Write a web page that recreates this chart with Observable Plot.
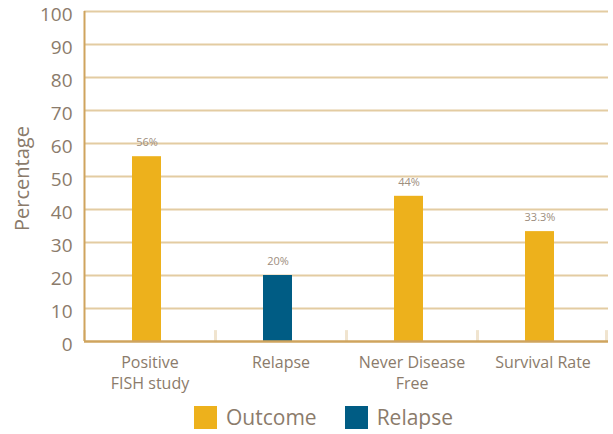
<!DOCTYPE html>
<html>
<head>
<meta charset="utf-8">
<script src="https://cdn.jsdelivr.net/npm/d3@7"></script>
<script src="https://cdn.jsdelivr.net/npm/@observablehq/plot@0.6"></script>
<style>
  body { margin: 0; background: #fff; font-family: "Open Sans", sans-serif; }
  #chart svg { display: block; overflow: visible; }
  .legend { display: flex; justify-content: center; align-items: center; gap: 28px; margin-top: 11px; margin-left: 34px; color: #8b7b6b; font-size: 21px; line-height: 23px; }
  .legend span.item { display: flex; align-items: center; gap: 9px; }
  .legend span.sw { width: 23px; height: 23px; display: inline-block; }
</style>
</head>
<body>
<div id="chart"></div>
<div class="legend" id="legend"></div>
<script>
const categories = ["Positive\nFISH study", "Relapse", "Never Disease\nFree", "Survival Rate"];
const values = [56, 20, 44, 33.3];
const labels = ["56%", "20%", "44%", "33.3%"];
const groups = ["Outcome", "Relapse", "Outcome", "Outcome"];
const yTicks = [0, 10, 20, 30, 40, 50, 60, 70, 80, 90, 100];

const groupNames = ["Outcome", "Relapse"];
const groupColors = ["#edb11c", "#005c84"];

const data = categories.map((c, i) => ({category: c, value: values[i], label: labels[i], group: groups[i]}));

const W = 613, mL = 84, mR = 5;
const step = (W - mL - mR) / categories.length;
const textColor = "#8b7b6b";

const chart = Plot.plot({
  width: W,
  height: 395,
  marginLeft: mL,
  marginRight: mR,
  marginTop: 11,
  marginBottom: 54,
  style: {fontFamily: "'Open Sans', sans-serif", color: textColor, background: "#fff", overflow: "visible"},
  x: {domain: categories, paddingInner: 0.78, paddingOuter: 0.39},
  y: {domain: [0, 100]},
  color: {domain: groupNames, range: groupColors},
  marks: [
    Plot.ruleY(yTicks.filter(d => d > 0), {stroke: "#e3cca2", strokeWidth: 2}),
    // separators between categories
    Plot.ruleX(categories, {x: d => d, dx: -step / 2, y1: 0, y2: 3.3, stroke: "#f0e4cf", strokeWidth: 3}),
    Plot.ruleX([categories[categories.length - 1]], {x: d => d, dx: step / 2 - 2, y1: 0, y2: 3.3, stroke: "#f0e4cf", strokeWidth: 3}),
    Plot.barY(data, {x: "category", y: "value", fill: "group", dx: -3}),
    Plot.text(data, {x: "category", y: "value", text: "label", dx: -3, dy: -14, fontSize: 11, fill: "#9d8e7e"}),
    Plot.ruleY([0], {stroke: "#cfa45e", strokeWidth: 2.5}),
    // left axis line
    Plot.ruleX([categories[0]], {x: d => d, dx: -step / 2, y1: 0, y2: 100, stroke: "#cfa45e", strokeWidth: 2}),
    Plot.axisY({ticks: yTicks, tickSize: 0, tickPadding: 12, dy: 3, fontSize: 19, label: null, fill: textColor}),
    Plot.axisX({tickSize: 0, tickPadding: 12, fontSize: 16, lineHeight: 1.3, label: null, fill: textColor}),
    Plot.text(["Percentage"], {frameAnchor: "left", textAnchor: "middle", rotate: -90, dx: -62, dy: 2, fontSize: 20, fill: textColor})
  ]
});
document.getElementById("chart").appendChild(chart);

const legend = document.getElementById("legend");
groupNames.forEach((g, i) => {
  const item = document.createElement("span");
  item.className = "item";
  const sw = document.createElement("span");
  sw.className = "sw";
  sw.style.background = groupColors[i];
  const t = document.createElement("span");
  t.textContent = g;
  item.appendChild(sw);
  item.appendChild(t);
  legend.appendChild(item);
});
</script>
</body>
</html>
